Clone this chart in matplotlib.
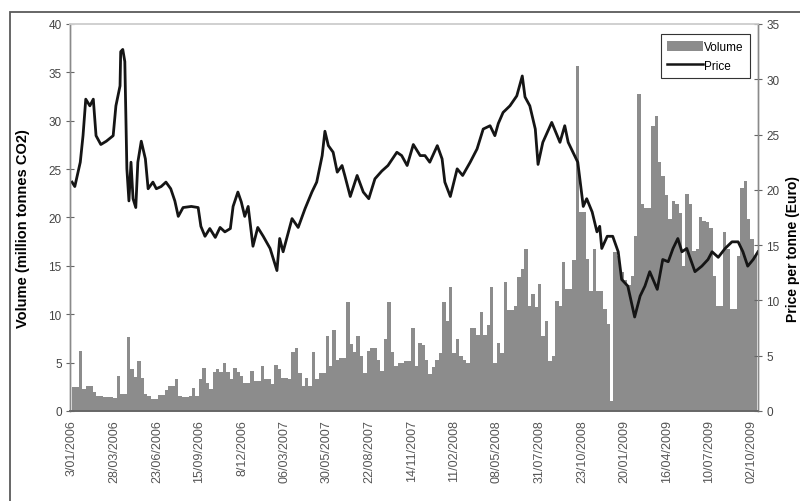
import matplotlib
matplotlib.use('Agg')
import matplotlib.pyplot as plt
from matplotlib.patches import Rectangle, Patch
from matplotlib.lines import Line2D

plt.rcParams['font.family'] = ['Liberation Sans', 'DejaVu Sans']

# ---- data ----
date_labels = ['3/01/2006', '28/03/2006', '23/06/2006', '15/09/2006', '8/12/2006',
               '06/03/2007', '30/05/2007', '22/08/2007', '14/11/2007', '11/02/2008',
               '08/05/2008', '31/07/2008', '23/10/2008', '20/01/2009', '16/04/2009',
               '10/07/2009', '02/10/2009']
label_day = [0, 62, 124, 186, 248, 310, 372, 434, 496, 558, 620, 682, 744, 806, 868, 930, 992]

# weekly traded volume (million tonnes CO2), one value per 5 trading days
volume = [2.5, 2.5, 6.2, 2.3, 2.6, 2.6, 2.0, 1.6, 1.6, 1.4,
          1.4, 1.4, 1.3, 3.6, 1.8, 1.8, 7.6, 4.3, 3.5, 5.2,
          3.4, 1.8, 1.5, 1.2, 1.2, 1.7, 1.7, 2.2, 2.6, 2.6,
          3.3, 1.6, 1.4, 1.4, 1.5, 2.4, 1.5, 3.3, 4.4, 2.9,
          2.3, 4.0, 4.3, 4.0, 5.0, 4.0, 3.3, 4.4, 4.0, 3.6,
          2.9, 2.9, 4.1, 3.1, 3.1, 4.7, 3.3, 3.3, 2.8, 4.8,
          4.3, 3.4, 3.4, 3.3, 6.1, 6.5, 3.9, 2.6, 3.4, 2.6,
          6.1, 3.3, 3.9, 3.9, 7.8, 4.6, 8.4, 5.3, 5.5, 5.5,
          11.3, 6.9, 6.1, 7.8, 5.7, 3.9, 6.2, 6.5, 6.5, 5.3,
          4.1, 7.4, 11.3, 6.1, 4.6, 5.0, 5.0, 5.2, 5.2, 8.6,
          4.6, 7.0, 6.8, 5.3, 3.8, 4.5, 5.3, 6.0, 11.3, 9.3,
          12.8, 6.0, 7.4, 5.7, 5.3, 5.0, 8.6, 8.6, 7.9, 10.2,
          7.9, 8.9, 12.8, 5.0, 7.0, 6.0, 13.3, 10.4, 10.4, 10.9,
          13.9, 14.7, 16.7, 10.9, 12.1, 10.7, 13.1, 7.8, 9.3, 5.2,
          5.7, 11.4, 10.9, 15.4, 12.6, 12.6, 15.6, 35.7, 20.6, 20.6,
          15.7, 12.4, 16.7, 12.4, 12.4, 10.5, 9.0, 1.0, 16.4, 16.0,
          14.4, 13.5, 13.0, 14.0, 18.1, 32.8, 21.4, 21.0, 21.0, 29.5,
          30.5, 25.7, 24.3, 22.3, 19.8, 21.7, 21.4, 20.5, 15.0, 22.4,
          21.4, 16.5, 16.7, 20.0, 19.6, 19.5, 18.9, 14.0, 10.9, 10.9,
          18.5, 16.7, 10.5, 10.5, 16.0, 23.1, 23.8, 19.8, 17.8, 16.0]

# price (Euro per tonne) at trading-day index
price_day = [0, 4, 12, 16, 20, 26, 31, 35, 42, 50, 60, 64, 70, 71, 74, 77, 80, 83, 86, 89,
             93, 96, 101, 107, 111, 118, 123, 130, 137, 144, 150, 155, 162, 174, 184, 188,
             194, 201, 209, 216, 223, 231, 235, 242, 247, 252, 257, 264, 271, 279, 289, 299,
             303, 308, 321, 330, 340, 350, 357, 365, 369, 374, 381, 387, 394, 398, 406, 416,
             425, 433, 442, 452, 461, 474, 481, 489, 498, 508, 515, 522, 533, 540, 544, 552,
             562, 570, 581, 591, 600, 610, 617, 622, 629, 639, 649, 657, 661, 668, 676, 680,
             687, 700, 708, 712, 719, 724, 731, 738, 746, 751, 759, 766, 770, 773, 781, 789,
             797, 802, 811, 821, 829, 836, 843, 854, 862, 870, 877, 884, 890, 897, 909, 919,
             928, 934, 943, 953, 963, 972, 979, 986, 994, 1001]
price = [20.7, 20.3, 22.5, 24.9, 28.2, 27.6, 28.2, 24.9, 24.1, 24.4, 24.9, 27.6, 29.4, 32.5,
         32.7, 31.6, 21.9, 19.0, 22.5, 19.2, 18.4, 22.5, 24.4, 22.8, 20.1, 20.7, 20.1, 20.3,
         20.7, 20.1, 19.0, 17.6, 18.4, 18.5, 18.4, 16.7, 15.8, 16.5, 15.7, 16.6, 16.2, 16.5,
         18.5, 19.8, 18.9, 17.6, 18.5, 14.9, 16.6, 15.8, 14.7, 12.7, 15.6, 14.4, 17.4, 16.6,
         18.3, 19.8, 20.7, 23.1, 25.3, 24.0, 23.4, 21.6, 22.2, 21.3, 19.4, 21.3, 19.8, 19.2,
         21.0, 21.7, 22.2, 23.4, 23.1, 22.2, 24.1, 23.1, 23.1, 22.5, 24.0, 22.8, 20.7, 19.4,
         21.9, 21.3, 22.5, 23.7, 25.5, 25.8, 24.9, 26.0, 27.0, 27.6, 28.5, 30.3, 28.4, 27.6,
         25.5, 22.3, 24.3, 26.1, 24.9, 24.3, 25.8, 24.3, 23.4, 22.5, 18.5, 19.2, 18.0, 16.2,
         16.7, 14.7, 15.8, 15.8, 14.4, 11.9, 11.3, 8.5, 10.4, 11.3, 12.6, 11.0, 13.7, 13.5,
         14.7, 15.6, 14.4, 14.7, 12.6, 13.1, 13.7, 14.4, 13.9, 14.7, 15.3, 15.3, 14.4, 13.1,
         13.7, 14.4]

# ---- figure ----
fig = plt.figure(figsize=(8, 5.02), dpi=100)
ax = fig.add_axes([0.0875, 0.1793, 0.86, 0.7709])

week_start = [5 * i for i in range(len(volume))]
ax.bar(week_start, volume, width=5, align='edge', color='#8c8c8c', linewidth=0)
ax.set_xlim(-3, 1001)
ax.set_ylim(0, 40)
ax.set_yticks(range(0, 41, 5))
ax.set_xticks(label_day)
ax.set_xticklabels(date_labels, rotation=90, fontsize=9, color='#555555')
ax.tick_params(axis='x', length=0, pad=6)
ax.tick_params(axis='y', direction='inout', length=6, labelsize=8.5, labelcolor='#444444',
               color='#666666', pad=3)
ax.set_ylabel('Volume (million tonnes CO2)', fontsize=10.5, fontweight='bold')
ax.yaxis.set_label_coords(-0.058, 0.473)

ax2 = ax.twinx()
ax2.plot(price_day, price, color='#151515', lw=2.0)
ax2.set_ylim(0, 35)
ax2.set_yticks(range(0, 36, 5))
ax2.tick_params(axis='y', direction='inout', length=6, labelsize=8.5, labelcolor='#444444',
                color='#666666', pad=3)
ax2.set_ylabel('Price per tonne (Euro)', fontsize=10, fontweight='bold')
ax2.yaxis.set_label_coords(1.041, 0.42)

for a in (ax, ax2):
    for s in ('left', 'right'):
        a.spines[s].set_color('#8a8a8a')
        a.spines[s].set_linewidth(1.0)
    a.spines['top'].set_color('#d0d0d0')
    a.spines['top'].set_linewidth(1.2)
    a.spines['bottom'].set_color('#666666')
    a.spines['bottom'].set_linewidth(1.2)

handles = [Patch(facecolor='#8c8c8c', edgecolor='none', label='Volume'),
           Line2D([], [], color='#151515', lw=1.8, label='Price')]
leg = ax2.legend(handles=handles, loc='upper left', bbox_to_anchor=(0.859, 0.974),
                 fontsize=8.5, frameon=True, fancybox=False, edgecolor='#333333',
                 framealpha=1, handlelength=3.0, handleheight=1.0, handletextpad=0.1,
                 borderpad=0.55, labelspacing=0.55, borderaxespad=0)
leg.get_frame().set_linewidth(0.8)

# outer chart frame
fig.add_artist(Rectangle((10 / 800, -0.1), 1.2, 1.1 - 13 / 502, transform=fig.transFigure,
                         fill=False, edgecolor='#5a5a5a', lw=1.3))

fig.savefig('out.png', dpi=100)
